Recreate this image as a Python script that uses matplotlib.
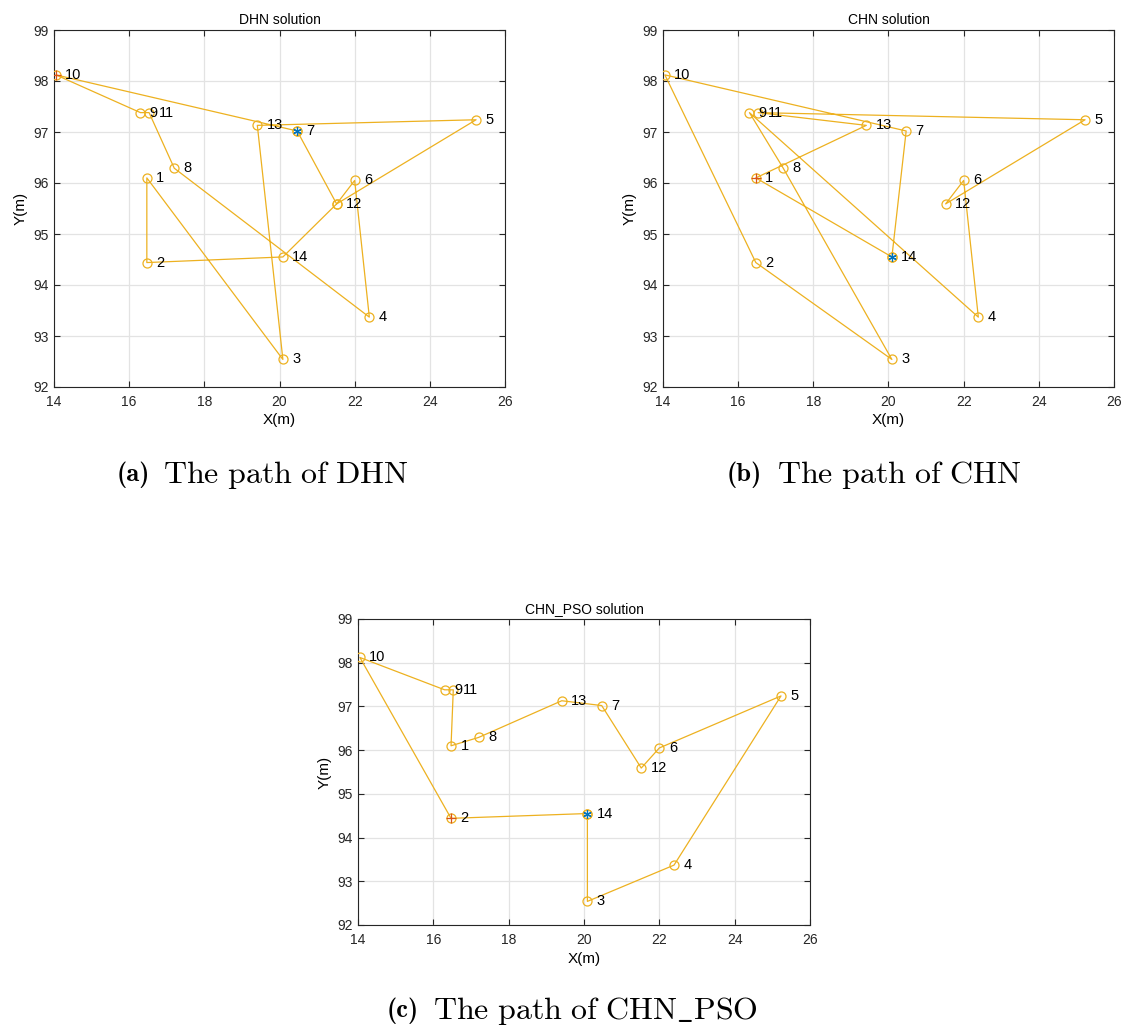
import matplotlib
matplotlib.use('Agg')
import matplotlib.pyplot as plt

plt.rcParams['font.family'] = ['Liberation Sans', 'DejaVu Sans']
plt.rcParams['mathtext.fontset'] = 'cm'

# city coordinates (burma14)
city_x = [16.47, 16.47, 20.09, 22.39, 25.23, 22.00, 20.47, 17.20, 16.30, 14.05, 16.53, 21.52, 19.41, 20.09]
city_y = [96.10, 94.44, 92.54, 93.37, 97.24, 96.05, 97.02, 96.29, 97.38, 98.12, 97.38, 95.59, 97.13, 94.55]
city_names = [str(i) for i in range(1, 15)]

# visiting order of each solution (1-based city numbers)
route_dhn = [7, 12, 14, 2, 1, 3, 13, 5, 12, 6, 4, 8, 11, 9, 10]
route_chn = [14, 7, 10, 2, 3, 8, 9, 4, 6, 12, 5, 11, 13, 1]
route_pso = [14, 3, 4, 5, 6, 12, 7, 13, 8, 1, 11, 9, 10, 2]

titles = ['DHN solution', 'CHN solution', 'CHN_PSO solution']
tags = ['(a)', '(b)', '(c)']
captions = [r'$\mathrm{The\ path\ of\ DHN}$',
            r'$\mathrm{The\ path\ of\ CHN}$',
            r'$\mathrm{The\ path\ of\ CHN\_PSO}$']

W, H = 1129, 1030
fig = plt.figure(figsize=(W / 100, H / 100), dpi=100)

# axes boxes in pixels: left, top, right, bottom
boxes = [(54, 30, 505, 387), (663, 30, 1114, 387), (358, 619, 810, 925)]
# caption tag x, caption text x, caption y (pixels)
caption_pos = [(117, 163, 475), (727, 777, 475), (387, 433, 1011)]

path_color = '#EDB120'
for box, route, title, tag, cap, cpos in zip(boxes, [route_dhn, route_chn, route_pso], titles, tags, captions, caption_pos):
    l, t, r, b = box
    ax = fig.add_axes([l / W, 1 - b / H, (r - l) / W, (b - t) / H])
    px = [city_x[c - 1] for c in route] + [city_x[route[0] - 1]]
    py = [city_y[c - 1] for c in route] + [city_y[route[0] - 1]]
    ax.plot(px, py, '-o', color=path_color, lw=0.9, ms=6.5, mfc='none', mew=0.9, zorder=3)
    # start and end cities
    ax.plot(city_x[route[0] - 1], city_y[route[0] - 1], marker=(6, 2, 0), color='#0072BD',
            ms=6, mew=0.9, ls='none', zorder=4)
    ax.plot(city_x[route[-1] - 1], city_y[route[-1] - 1], '+', color='#D95319', ms=6.5, mew=0.9, zorder=4)
    for name, x, y in zip(city_names, city_x, city_y):
        ax.text(x + 0.25, y, name, fontsize=10.5, va='center', ha='left', zorder=5)
    ax.set_xlim(14, 26)
    ax.set_ylim(92, 99)
    ax.set_xticks(range(14, 27, 2))
    ax.set_yticks(range(92, 100))
    ax.grid(True, color='#e3e3e3', lw=0.9)
    ax.set_axisbelow(True)
    ax.tick_params(direction='in', top=True, right=True, labelsize=10, length=4, colors='#262626')
    ax.tick_params(axis='x', pad=6)
    ax.tick_params(axis='y', pad=4)
    for s in ax.spines.values():
        s.set_color('#262626')
        s.set_linewidth(0.8)
    ax.set_title(title, fontsize=10, pad=4)
    ax.set_xlabel('X(m)', fontsize=11, labelpad=3)
    ax.set_ylabel('Y(m)', fontsize=11, labelpad=4)
    fig.text(cpos[0] / W, 1 - cpos[2] / H, tag, fontsize=19, family='cmb10', ha='left', va='center')
    fig.text(cpos[1] / W, 1 - cpos[2] / H, cap, fontsize=23, ha='left', va='center')

fig.savefig('out.png', dpi=100)
